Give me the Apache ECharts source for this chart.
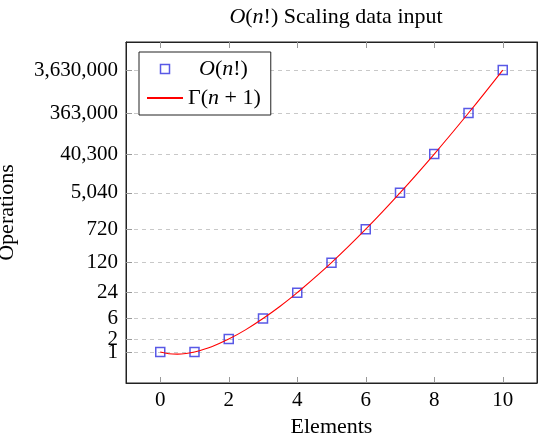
<!DOCTYPE html>
<html>
<head>
<meta charset="utf-8">
<script src="https://cdn.jsdelivr.net/npm/echarts@6/dist/echarts.min.js"></script>
<style>
  html, body { margin: 0; padding: 0; background: #fff; }
  #chart { width: 540px; height: 434px; }
</style>
</head>
<body>
<div id="chart"></div>
<script>
    // data
    var elements = [0, 1, 2, 3, 4, 5, 6, 7, 8, 9, 10];
    var operations = [1, 1, 2, 6, 24, 120, 720, 5040, 40320, 362880, 3628800];
    var curveX = [0, 0.25, 0.5, 0.75, 1, 1.5, 2, 2.5, 3, 3.5, 4, 5, 6, 7, 8, 9, 10];
    var curveY = [1, 0.91, 0.89, 0.92, 1, 1.33, 2, 3.32, 6, 11.6, 24, 120, 720, 5040, 40320, 362880, 3628800];
    var yTicks = [1, 2, 6, 24, 120, 720, 5040, 40320, 362880, 3628800];
    var yTickLabels = ['1', '2', '6', '24', '120', '720', '5,040', '40,300', '363,000', '3,630,000'];
    var xTicks = [0, 2, 4, 6, 8, 10];

    var font = 'Liberation Serif';
    var blue = '#2f2fe0';
    var italic = {fontStyle: 'italic', fontFamily: font, fontSize: 22, color: '#000'};

    var points = elements.map(function (x, i) { return [x, operations[i]]; });
    var curve = curveX.map(function (x, i) { return [x, curveY[i]]; });

    // labels 1/2/6 crowd each other, so every other label goes on a second (invisible) axis
    var labelsEven = yTicks.filter(function (v, i) { return i % 2 === 0; });
    var labelsOdd = yTicks.filter(function (v, i) { return i % 2 === 1; });

    var chart = echarts.init(document.getElementById('chart'));

    var yLog = {
        type: 'log',
        min: 0.19,
        max: 16300000,
        logBase: 10
    };

    function tickLabel(v) {
        var k = yTicks.indexOf(Math.round(v));
        return k >= 0 ? yTickLabels[k] : '';
    }
    var labelStyle = {
        fontFamily: font, fontSize: 21, color: '#000', margin: 8, formatter: tickLabel,
        hideOverlap: false, showMinLabel: true, showMaxLabel: true
    };

    var option = {
        backgroundColor: '#fff',
        animation: false,
        title: {
            text: '{i|O}({i|n}!) Scaling data input',
            left: 331,
            textAlign: 'center',
            top: 1,
            textStyle: {
                fontFamily: font,
                fontSize: 22,
                fontWeight: 'normal',
                color: '#000',
                rich: {i: italic}
            }
        },
        grid: {
            left: 126,
            right: 3,
            top: 42,
            bottom: 51,
            containLabel: false,
            outerBoundsMode: 'none',
            show: true,
            borderColor: '#222',
            borderWidth: 1
        },
        legend: {
            orient: 'vertical',
            left: 139,
            top: 52,
            padding: [6, 10, 6, 7],
            itemGap: 7,
            itemWidth: 36,
            itemHeight: 9,
            borderColor: '#222',
            borderWidth: 1,
            backgroundColor: '#fff',
            data: [
                {name: 'O(n!)', icon: 'path://M0,0H10V10H0Z',
                    itemStyle: {color: 'rgba(0,0,0,0)', borderColor: blue, borderWidth: 1.5}},
                {name: 'Gamma', itemStyle: {opacity: 0}}
            ],
            formatter: function (name) {
                if (name === 'O(n!)') return '  {i|O}({i|n}!)';
                return 'Γ({i|n} + 1)';
            },
            textStyle: {
                fontFamily: font,
                fontSize: 22,
                color: '#000',
                rich: {i: italic}
            }
        },
        xAxis: [
            {
                type: 'value',
                min: -1,
                max: 11,
                name: 'Elements',
                nameLocation: 'middle',
                nameGap: 31,
                nameTextStyle: {fontFamily: font, fontSize: 22, color: '#000'},
                axisLine: {show: true, onZero: false, lineStyle: {color: '#222'}},
                axisTick: {show: true, inside: true, length: 6, customValues: xTicks, lineStyle: {color: '#999'}},
                axisLabel: {customValues: xTicks, fontFamily: font, fontSize: 21, color: '#000', margin: 7},
                splitLine: {show: false}
            },
            {
                type: 'value',
                position: 'top',
                min: -1,
                max: 11,
                axisLine: {show: true, onZero: false, lineStyle: {color: '#222'}},
                axisTick: {show: true, inside: true, length: 6, customValues: xTicks, lineStyle: {color: '#999'}},
                axisLabel: {show: false},
                splitLine: {show: false}
            }
        ],
        yAxis: [
            Object.assign({}, yLog, {
                name: 'Operations',
                nameLocation: 'middle',
                nameGap: 108,
                nameTextStyle: {fontFamily: font, fontSize: 22, color: '#000'},
                axisLine: {show: true, onZero: false, lineStyle: {color: '#222'}},
                axisTick: {show: true, inside: true, length: 6, customValues: yTicks, lineStyle: {color: '#999'}},
                axisLabel: Object.assign({customValues: labelsOdd}, labelStyle),
                splitLine: {show: true, lineStyle: {color: '#c8c8c8', type: [4, 4], width: 1}}
            }),
            Object.assign({}, yLog, {
                position: 'right',
                axisLine: {show: true, onZero: false, lineStyle: {color: '#222'}},
                axisTick: {show: true, inside: true, length: 6, customValues: yTicks, lineStyle: {color: '#999'}},
                axisLabel: {show: false},
                splitLine: {show: false}
            }),
            Object.assign({}, yLog, {
                position: 'left',
                axisLine: {show: false, onZero: false},
                axisTick: {show: false},
                axisLabel: Object.assign({customValues: labelsEven}, labelStyle),
                splitLine: {show: false}
            })
        ],
        series: [
            {
                name: 'O(n!)',
                type: 'scatter',
                data: points,
                symbol: 'rect',
                symbolSize: 9,
                itemStyle: {color: 'rgba(0,0,0,0)', borderColor: blue, borderWidth: 1.5},
                z: 3
            },
            {
                name: 'Gamma',
                type: 'line',
                data: curve,
                smooth: 0.4,
                symbol: 'none',
                lineStyle: {color: '#ff0000', width: 1.1},
                itemStyle: {color: '#ff0000'},
                z: 4
            }
        ]
    };
    chart.setOption(option);
</script>
</body>
</html>
